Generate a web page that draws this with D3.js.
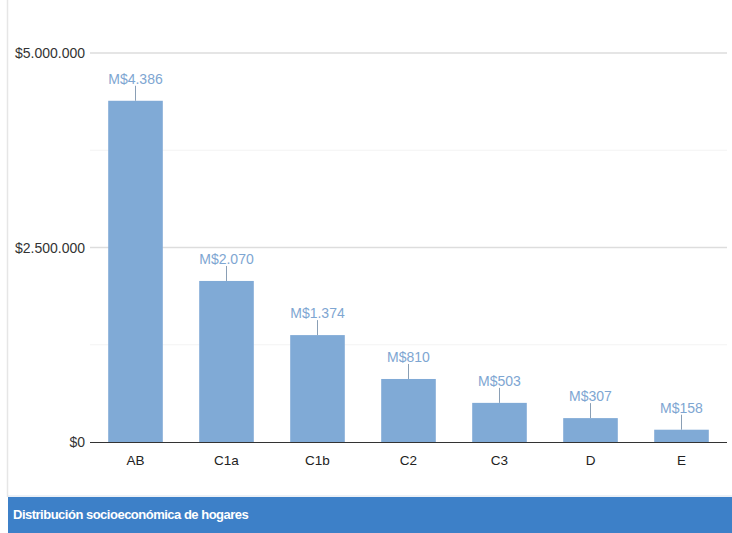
<!DOCTYPE html>
<html><head><meta charset="utf-8">
<script src="https://cdn.jsdelivr.net/npm/d3@7"></script>
<style>body{margin:0;background:#fff;}svg{display:block;font-family:"Liberation Sans",Arial,sans-serif;}</style>
</head><body>
<svg id="c" width="732" height="533"></svg>
<script>
const categories = ["AB","C1a","C1b","C2","C3","D","E"];
const values = [4386000, 2070000, 1374000, 810000, 503000, 307000, 158000];
const valueLabels = ["M$4.386","M$2.070","M$1.374","M$810","M$503","M$307","M$158"];
const majorTicks = [0, 2500000, 5000000];
const majorTickLabels = ["$0","$2.500.000","$5.000.000"];
const minorTicks = [1250000, 3750000];
const title = "Distribución socioeconómica de hogares";

(function(){
const svg = d3.select("#c");
const pLeft = 90, pRight = 727, pTop = 53, pBottom = 442;
const y = d3.scaleLinear().domain([0, 5000000]).range([pBottom, pTop]);
const x = d3.scaleBand().domain(categories).range([pLeft, pRight]).paddingInner(0.4).paddingOuter(0.2);

svg.append("line").attr("x1",7.5).attr("x2",7.5).attr("y1",0).attr("y2",497).attr("stroke","#e6e6e6").attr("stroke-width",1.5);

svg.selectAll(".minor").data(minorTicks).enter().append("line")
  .attr("x1",pLeft).attr("x2",pRight).attr("y1",d=>y(d)).attr("y2",d=>y(d))
  .attr("stroke","#f3f3f3").attr("stroke-width",1);

svg.selectAll(".major").data(majorTicks.filter(d=>d>0)).enter().append("line")
  .attr("x1",pLeft).attr("x2",pRight).attr("y1",d=>y(d)).attr("y2",d=>y(d))
  .attr("stroke","#dddddd").attr("stroke-width",1.5);

svg.selectAll(".yl").data(majorTicks).enter().append("text")
  .attr("x",85).attr("y",d=>y(d)+5).attr("text-anchor","end")
  .attr("font-size",14).attr("fill","#333").text((d,i)=>majorTickLabels[i]);

svg.selectAll(".bar").data(values).enter().append("rect")
  .attr("x",(d,i)=>x(categories[i])).attr("width",x.bandwidth())
  .attr("y",d=>y(d)).attr("height",d=>pBottom-y(d)).attr("fill","#80aad6");

svg.selectAll(".lead").data(values).enter().append("line")
  .attr("x1",(d,i)=>x(categories[i])+x.bandwidth()/2).attr("x2",(d,i)=>x(categories[i])+x.bandwidth()/2)
  .attr("y1",d=>y(d)-15).attr("y2",d=>y(d)).attr("stroke","#8a9fb5").attr("stroke-width",1);

svg.selectAll(".vl").data(values).enter().append("text")
  .attr("x",(d,i)=>x(categories[i])+x.bandwidth()/2).attr("y",d=>y(d)-17)
  .attr("text-anchor","middle").attr("font-size",14).attr("fill","#7ea6d2")
  .text((d,i)=>valueLabels[i]);

svg.append("line").attr("x1",pLeft).attr("x2",pRight).attr("y1",pBottom+0.5).attr("y2",pBottom+0.5).attr("stroke","#333").attr("stroke-width",1.2);

svg.selectAll(".cl").data(categories).enter().append("text")
  .attr("x",d=>x(d)+x.bandwidth()/2).attr("y",pBottom+23).attr("text-anchor","middle")
  .attr("font-size",13.5).attr("fill","#222").text(d=>d);

svg.append("line").attr("x1",8).attr("x2",732).attr("y1",496).attr("y2",496).attr("stroke","#d8e2ee").attr("stroke-width",1);
svg.append("rect").attr("x",8).attr("y",497).attr("width",724).attr("height",36).attr("fill","#3d80c8");
svg.append("text").attr("x",13).attr("y",519).attr("font-size",13).attr("font-weight","bold").attr("letter-spacing",-0.5).attr("fill","#fff").text(title);
})();
</script>
</body></html>
